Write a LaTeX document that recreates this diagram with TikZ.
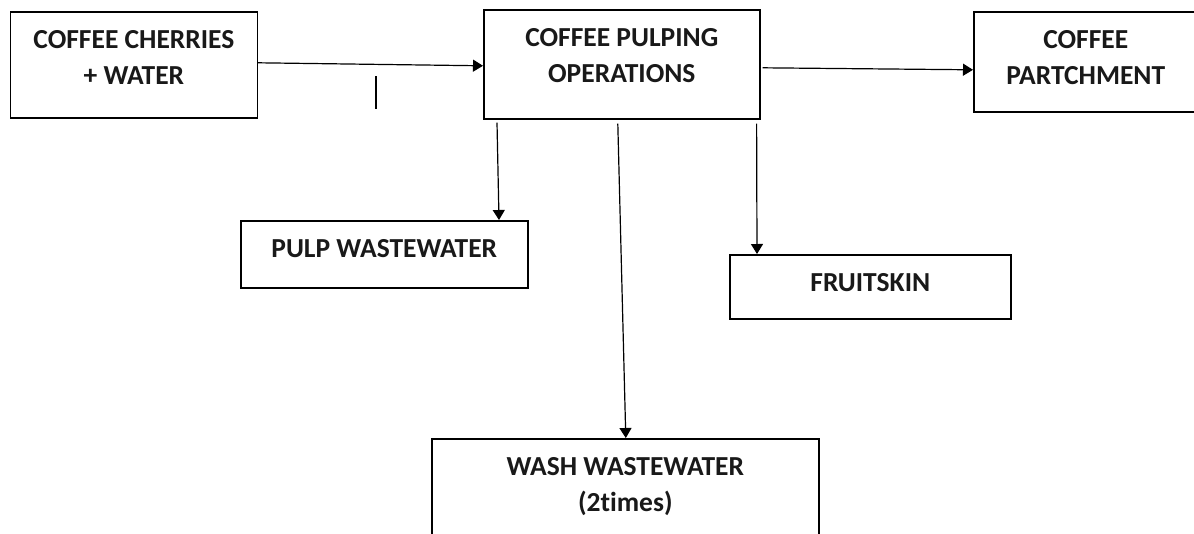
\documentclass[tikz,border=0pt]{standalone}
\usepackage{fontspec}
\setmainfont[Ligatures=NoCommon]{Carlito}
\usetikzlibrary{arrows.meta}
\begin{document}
\begin{tikzpicture}[x=1pt,y=-1pt,
  box/.style={draw=black, line width=1.6pt, rectangle, anchor=north west, inner sep=0pt},
  txt/.style={font=\fontsize{27.5}{36}\selectfont\bfseries, align=center, inner sep=0pt, anchor=north, text=black!90},
  arr/.style={line width=1.2pt, -{Triangle[length=10pt,width=12pt]}}]
\useasboundingbox[fill=white] (0,0) rectangle (1194,533);
% boxes
\node[box, minimum width=247pt, minimum height=106pt] (cherries) at (9.6,11) {};
\node[box, minimum width=276pt, minimum height=109pt] (pulping) at (483,9) {};
\node[box, minimum width=224pt, minimum height=100pt] (partch) at (973,11) {};
\node[box, minimum width=287pt, minimum height=67pt] (pulp) at (240,220) {};
\node[box, minimum width=281pt, minimum height=64pt] (fruit) at (729,254) {};
\node[box, minimum width=387pt, minimum height=130pt] (wash) at (431,438) {};
% texts
\node[txt] (cherriesT) at ([shift={(0,19)}]cherries.north) {COFFEE CHERRIES\\+ WATER};
\node[txt] (pulpingT) at ([shift={(0,19)}]pulping.north) {COFFEE PULPING\\OPERATIONS};
\node[txt] (partchT) at ([shift={(0,19)}]partch.north) {COFFEE\\PARTCHMENT};
\node[txt] (pulpT) at ([shift={(0,19)}]pulp.north) {PULP WASTEWATER};
\node[txt] (fruitT) at ([shift={(0,19)}]fruit.north) {FRUITSKIN};
\node[txt] (washT) at ([shift={(0,19)}]wash.north) {WASH WASTEWATER\\(2times)};
% connectors
\draw[arr] ([shift={(0,-2)}]cherries.east) -- ([shift={(0,1.5)}]pulping.west);
\draw[arr] ([shift={(2,3.5)}]pulping.east) -- ([shift={(0,8)}]partch.west);
\draw[arr] ([shift={(14,3)}]pulping.south west) -- ([shift={(259,0)}]pulp.north west);
\draw[arr] ([shift={(-4,4)}]pulping.south east) -- ([shift={(28,0)}]fruit.north west);
\draw[arr] ([shift={(-4,4)}]pulping.south) -- ([shift={(0.5,0)}]wash.north);
% small tick
\coordinate (tickA) at (376,76);
\coordinate (tickB) at (376,109);
\draw[line width=1.2pt] (tickA) -- (tickB);
\end{tikzpicture}
\end{document}
